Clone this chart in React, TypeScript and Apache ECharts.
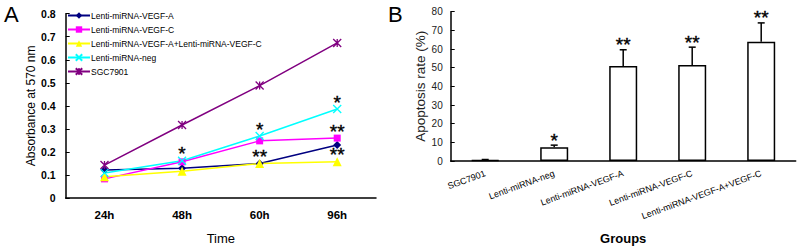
import React, { useEffect, useRef } from "react";
import * as echarts from "echarts";

// ---- Panel A data ----
const times = ["24h", "48h", "60h", "96h"];
const vegfA = [0.122, 0.129, 0.15, 0.23];
const vegfC = [0.083, 0.157, 0.248, 0.26];
const vegfAC = [0.092, 0.116, 0.15, 0.157];
const negA = [0.109, 0.162, 0.269, 0.386];
const sgcA = [0.143, 0.317, 0.488, 0.673];
const aStarCat = [1, 2, 2, 3, 3, 3];
const aStarValue = [0.162, 0.269, 0.15, 0.386, 0.26, 0.157];
const aStarText = ["*", "*", "**", "*", "**", "**"];
const aTicks = [0, 0.8, 0.1];

// ---- Panel B data ----
const groups = [
  "SGC7901",
  "Lenti-miRNA-neg",
  "Lenti-miRNA-VEGF-A",
  "Lenti-miRNA-VEGF-C",
  "Lenti-miRNA-VEGF-A+VEGF-C",
];
const rates = [0.5, 7.4, 50.9, 51.4, 63.9];
const errs = [0.3, 1.1, 8.7, 9.6, 10.1];
const bStars = ["", "*", "**", "**", "**"];
const bTicks = [0, 80, 10];

const FONT = "Liberation Sans, Arial, sans-serif";

export default function App() {
  const ref = useRef<HTMLDivElement>(null);
  useEffect(() => {
    document.body.style.margin = "0";
    if (!ref.current) return;
    const chart = echarts.init(ref.current, undefined, { renderer: "svg" });
    const lineSeries = (name: string, data: number[], color: string, symbol: string, size: number, stroke = false) => ({
      type: "line",
      name,
      data,
      xAxisIndex: 0,
      yAxisIndex: 0,
      symbol,
      symbolSize: size,
      showAllSymbol: true,
      lineStyle: { color, width: 1.5 },
      itemStyle: stroke
        ? { color: "rgba(0,0,0,0)", borderColor: color, borderWidth: 1.3 }
        : { color, borderColor: color, borderWidth: 0 },
      emphasis: { disabled: true },
    });
    const starStyle = (text: string) => ({
      text,
      fontSize: 19,
      fontFamily: FONT,
      fill: "#000",
      stroke: "#000",
      lineWidth: 0.4,
      align: "center",
      verticalAlign: "middle",
    });
    const option: any = {
      animation: false,
      textStyle: { fontFamily: FONT },
      graphic: [
        { type: "text", left: 4, top: 3, style: { text: "A", fontSize: 22, fontFamily: FONT, fill: "#000" } },
        { type: "text", left: 388, top: 3, style: { text: "B", fontSize: 22, fontFamily: FONT, fill: "#000" } },
      ],
      legend: {
        orient: "vertical",
        left: 67,
        top: 11,
        itemWidth: 22,
        itemHeight: 8,
        itemGap: 5,
        padding: 0,
        textStyle: { fontSize: 8.5, color: "#000", fontFamily: FONT, padding: [0, 0, 0, -4] },
        data: ["Lenti-miRNA-VEGF-A", "Lenti-miRNA-VEGF-C", "Lenti-miRNA-VEGF-A+Lenti-miRNA-VEGF-C", "Lenti-miRNA-neg", "SGC7901"],
      },
      grid: [
        { left: 65.7, top: 13.7, width: 310.3, height: 193.6 },
        { left: 450.7, top: 11.7, width: 345, height: 154 },
      ],
      xAxis: [
        {
          type: "category",
          gridIndex: 0,
          data: times,
          boundaryGap: true,
          axisLine: { lineStyle: { color: "#000", width: 1.5 } },
          axisTick: { inside: true, length: 4, lineStyle: { color: "#000" } },
          axisLabel: { fontSize: 11.5, fontWeight: "bold", color: "#000", margin: 11 },
          name: "Time",
          nameLocation: "middle",
          nameGap: 34,
          nameTextStyle: { fontSize: 13, color: "#000" },
        },
        {
          type: "category",
          gridIndex: 1,
          data: groups,
          boundaryGap: true,
          axisLine: { lineStyle: { color: "#000", width: 1.5 } },
          axisTick: { inside: true, length: 4, lineStyle: { color: "#000" } },
          axisLabel: { fontSize: 9, color: "#000", rotate: 20, margin: 12, interval: 0 },
          name: "Groups",
          nameLocation: "middle",
          nameGap: 71,
          nameTextStyle: { fontSize: 13, fontWeight: "bold", color: "#000" },
        },
      ],
      yAxis: [
        {
          type: "value",
          gridIndex: 0,
          min: aTicks[0],
          max: aTicks[1],
          interval: aTicks[2],
          axisLine: { show: true, lineStyle: { color: "#000", width: 1.5 } },
          axisTick: { show: true, inside: true, length: 4, lineStyle: { color: "#000" } },
          splitLine: { show: false },
          axisLabel: {
            fontSize: 10.5,
            fontWeight: "bold",
            color: "#000",
            margin: 10,
            formatter: (v: number) => (v === 0 ? "0" : v.toFixed(1)),
          },
          name: "Absorbance at 570 nm",
          nameLocation: "middle",
          nameGap: 27,
          nameTextStyle: { fontSize: 12, color: "#000" },
        },
        {
          type: "value",
          gridIndex: 1,
          min: bTicks[0],
          max: bTicks[1],
          interval: bTicks[2],
          axisLine: { show: true, lineStyle: { color: "#000", width: 1.5 } },
          axisTick: { show: true, inside: true, length: 4, lineStyle: { color: "#000" } },
          splitLine: { show: false },
          axisLabel: { fontSize: 10, color: "#222", margin: 8 },
          name: "Apoptosis rate (%)",
          nameLocation: "middle",
          nameGap: 22,
          nameTextStyle: { fontSize: 13.5, color: "#222" },
        },
      ],
      series: [
        lineSeries("Lenti-miRNA-VEGF-A", vegfA, "#000080", "diamond", 8),
        lineSeries("Lenti-miRNA-VEGF-C", vegfC, "#ff00ff", "rect", 7),
        lineSeries("Lenti-miRNA-VEGF-A+Lenti-miRNA-VEGF-C", vegfAC, "#ffff00", "triangle", 9),
        lineSeries("Lenti-miRNA-neg", negA, "#00ffff", "path://M0,0L10,10M10,0L0,10", 8, true),
        lineSeries("SGC7901", sgcA, "#800080", "path://M0,0L10,10M10,0L0,10M5,0L5,10", 8, true),
        {
          type: "custom",
          xAxisIndex: 0,
          yAxisIndex: 0,
          data: aStarCat.map((c, i) => [c, aStarValue[i]]),
          silent: true,
          renderItem: (params: any, api: any) => {
            const p = api.coord([api.value(0), api.value(1)]);
            return { type: "text", x: p[0], y: p[1] - 7, style: starStyle(aStarText[params.dataIndex]) };
          },
        },
        {
          type: "bar",
          xAxisIndex: 1,
          yAxisIndex: 1,
          data: rates,
          barWidth: 28,
          itemStyle: { color: "#fff", borderColor: "#000", borderWidth: 1.5 },
          emphasis: { disabled: true },
        },
        {
          type: "custom",
          xAxisIndex: 1,
          yAxisIndex: 1,
          data: rates.map((r, i) => [i, r, r + errs[i]]),
          silent: true,
          renderItem: (params: any, api: any) => {
            const lo = api.coord([api.value(0), api.value(1)]);
            const hi = api.coord([api.value(0), api.value(2)]);
            const s = { stroke: "#000", lineWidth: 1.5 };
            return {
              type: "group",
              children: [
                { type: "line", shape: { x1: lo[0], y1: lo[1], x2: hi[0], y2: hi[1] }, style: s },
                { type: "line", shape: { x1: hi[0] - 3.5, y1: hi[1], x2: hi[0] + 3.5, y2: hi[1] }, style: s },
                { type: "text", x: hi[0], y: hi[1] - 5, style: starStyle(bStars[params.dataIndex]) },
              ],
            };
          },
        },
      ],
    };
    chart.setOption(option);
    return () => chart.dispose();
  }, []);
  return <div ref={ref} style={{ width: 800, height: 250 }} />;
}
